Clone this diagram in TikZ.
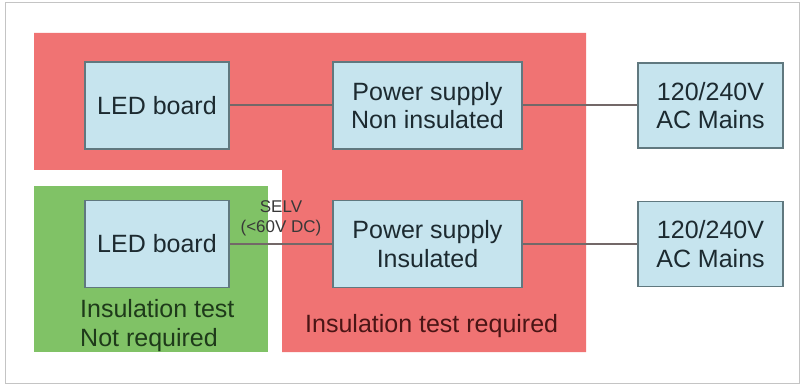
\documentclass[tikz,border=0pt]{standalone}
\usepackage{fontspec}
\setmainfont{Liberation Sans}
\definecolor{redzone}{HTML}{F07373}
\definecolor{greenzone}{HTML}{80C266}
\definecolor{boxfill}{HTML}{C6E4EE}
\definecolor{boxdraw}{HTML}{60787F}
\definecolor{boxtext}{HTML}{1C2A30}
\definecolor{greentext}{HTML}{1E3A1A}
\definecolor{redtext}{HTML}{4A1515}
\definecolor{wire}{HTML}{736868}
\definecolor{frame}{HTML}{C4C4C4}
\tikzset{
  blk/.style={draw=boxdraw, line width=1.2pt, fill=boxfill, text=boxtext,
    align=center, inner sep=0pt,
    font=\fontsize{25pt}{28.5pt}\selectfont},
  wirestyle/.style={draw=wire, line width=2pt},
  zonelabel/.style={inner sep=0pt, align=left,
    font=\fontsize{25pt}{29pt}\selectfont},
  smalllabel/.style={inner sep=0pt, align=center, text=black!78,
    font=\fontsize{17pt}{19.5pt}\selectfont}
}
\begin{document}
\begin{tikzpicture}[x=1pt,y=1pt]
\useasboundingbox (0,0) rectangle (801,-385);
% outer frame
\draw[frame, line width=1pt] (5,-2.5) rectangle (799.5,-383);
% zones
\fill[redzone] (34,-33) -- (586,-33) -- (586,-352) -- (282,-352) -- (282,-170) -- (34,-170) -- cycle;
\fill[greenzone] (34,-186) rectangle (268,-352);
% blocks
\node[blk, minimum width=144pt, minimum height=87pt] (led1) at (157,-105.5) {LED board};
\node[blk, minimum width=189pt, minimum height=87pt] (ps1) at (427.5,-105.5) {Power supply\\Non insulated};
\node[blk, minimum width=145pt, minimum height=85pt] (ac1) at (710.5,-105.5) {120/240V\\AC Mains};
\node[blk, minimum width=144pt, minimum height=87pt] (led2) at (157,-244) {LED board};
\node[blk, minimum width=189pt, minimum height=87pt] (ps2) at (427.5,-244) {Power supply\\Insulated};
\node[blk, minimum width=145pt, minimum height=85pt] (ac2) at (710.5,-244) {120/240V\\AC Mains};
% connectors
\draw[wirestyle] (led1) -- (ps1);
\draw[wirestyle] (ps1) -- (ac1);
\draw[wirestyle] (led2) -- node[midway, above=7pt, smalllabel] (selv) {SELV\\(<60V DC)} (ps2);
\draw[wirestyle] (ps2) -- (ac2);
% zone labels
\node[zonelabel, text=greentext, anchor=north west] (greenlbl) at (80,-299) {Insulation test\\Not required};
\node[zonelabel, text=redtext, anchor=base west] (redlbl) at (305,-332) {Insulation test required};
\end{tikzpicture}
\end{document}
